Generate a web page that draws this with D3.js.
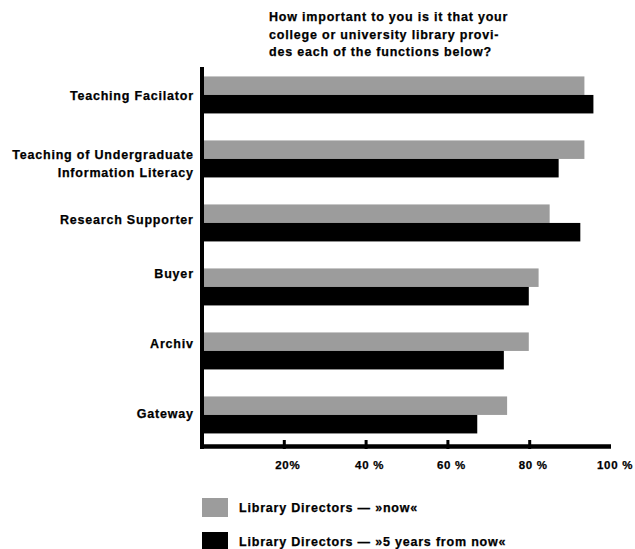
<!DOCTYPE html>
<html lang="en">
<head>
    <meta charset="UTF-8">
    <title>Library functions</title>
    <script src="https://d3js.org/d3.v7.min.js"></script>
    <style>
        body { margin: 0; background: #fff; }
        svg { display: block; font-family: "Liberation Sans", Arial, sans-serif; font-weight: bold; }
        svg text { letter-spacing: 0.8px; stroke: #000; stroke-width: 0.25px; }
    </style>
</head>
<body>
    <div id="chart"></div>
    <script>
        // data
        const categories = ["Teaching Facilator", "Teaching of Undergraduate\nInformation Literacy", "Research Supporter", "Buyer", "Archiv", "Gateway"];
        const nowValues = [93.5, 93.5, 85.0, 82.3, 79.9, 74.6];
        const futureValues = [95.7, 87.2, 92.5, 79.9, 73.8, 67.3];
        const tickValues = [20, 40, 60, 80, 100];
        const tickLabels = ["20%", "40 %", "60 %", "80 %", "100 %"];
        const seriesNames = ["Library Directors \u2014 \u00bbnow\u00ab", "Library Directors \u2014 \u00bb5 years from now\u00ab"];
        const titleLines = ["How important to you is it that your", "college or university library provi-", "des each of the functions below?"];

        const width = 635, height = 549;
        const colors = ["#9c9c9c", "#000000"];
        const barH = 18.5;
        // the category labels are not all centred on their bars in the original
        const labelNudge = [0, 4, -4, -14, -8, -1.5];

        const svg = d3.select("#chart").append("svg")
            .attr("width", width)
            .attr("height", height);

        const x = d3.scaleLinear().domain([0, 100]).range([202, 611]);
        const y = d3.scaleBand().domain(categories).range([63, 447])
            .paddingInner(0.42).paddingOuter(0.21);

        // title
        svg.append("text")
            .attr("x", 269)
            .attr("y", 21)
            .attr("font-size", "12.5px")
            .selectAll("tspan")
            .data(titleLines)
            .join("tspan")
            .attr("x", 269)
            .attr("dy", (d, i) => i === 0 ? 0 : 17.5)
            .text(d => d);

        // bars
        const rows = categories.map((c, i) => ({ cat: c, vals: [nowValues[i], futureValues[i]] }));
        const groups = svg.selectAll("g.row")
            .data(rows)
            .join("g")
            .classed("row", true);

        groups.selectAll("rect")
            .data(d => d.vals.map((v, j) => ({ cat: d.cat, v: v, j: j })))
            .join("rect")
            .attr("x", x(0))
            .attr("y", d => y(d.cat) + d.j * barH)
            .attr("width", d => x(d.v) - x(0))
            .attr("height", barH)
            .attr("fill", d => colors[d.j]);

        // category labels
        groups.append("text")
            .attr("text-anchor", "end")
            .attr("font-size", "12.5px")
            .each(function (d, i) {
                const lines = d.cat.split("\n");
                const cy = y(d.cat) + y.bandwidth() / 2 + labelNudge[i];
                const start = cy + 4.5 - (lines.length - 1) * 18 / 2;
                d3.select(this).selectAll("tspan")
                    .data(lines)
                    .join("tspan")
                    .attr("x", 193.8)
                    .attr("y", (l, k) => start + k * 18)
                    .text(l => l);
            });

        // vertical axis
        svg.append("line")
            .attr("x1", x(0)).attr("x2", x(0))
            .attr("y1", 67).attr("y2", 449)
            .attr("stroke", "#000")
            .attr("stroke-width", 4);

        // horizontal axis
        const axis = svg.append("g")
            .attr("transform", "translate(0,446.5)")
            .call(d3.axisBottom(x)
                .tickValues(tickValues)
                .tickSize(0)
                .tickSizeOuter(0)
                .tickFormat((d, i) => tickLabels[i]));
        axis.select(".domain")
            .attr("stroke", "#000")
            .attr("stroke-width", 4.5)
            .attr("d", "M" + x(0) + ",0H" + x(100));
        axis.selectAll(".tick line")
            .attr("y1", -6.5)
            .attr("y2", 2.5)
            .attr("stroke", "#000")
            .attr("stroke-width", 3)
            .filter(d => d === 100).remove();
        axis.selectAll(".tick text")
            .attr("y", 22.5)
            .attr("dy", 0)
            .attr("dx", 3.5)
            .attr("fill", "#000")
            .attr("font-size", "11.5px")
            .attr("font-family", "Liberation Sans, Arial, sans-serif")
            .attr("font-weight", "bold")
            .style("letter-spacing", "0.7px");

        // legend
        const legend = svg.selectAll("g.legend")
            .data(seriesNames)
            .join("g")
            .classed("legend", true)
            .attr("transform", (d, i) => "translate(202," + (498 + i * 34) + ")");
        legend.append("rect")
            .attr("width", 26)
            .attr("height", 19)
            .attr("fill", (d, i) => colors[i]);
        legend.append("text")
            .attr("x", 37)
            .attr("y", 13.8)
            .attr("font-size", "12.5px")
            .text(d => d);
    </script>
</body>
</html>
